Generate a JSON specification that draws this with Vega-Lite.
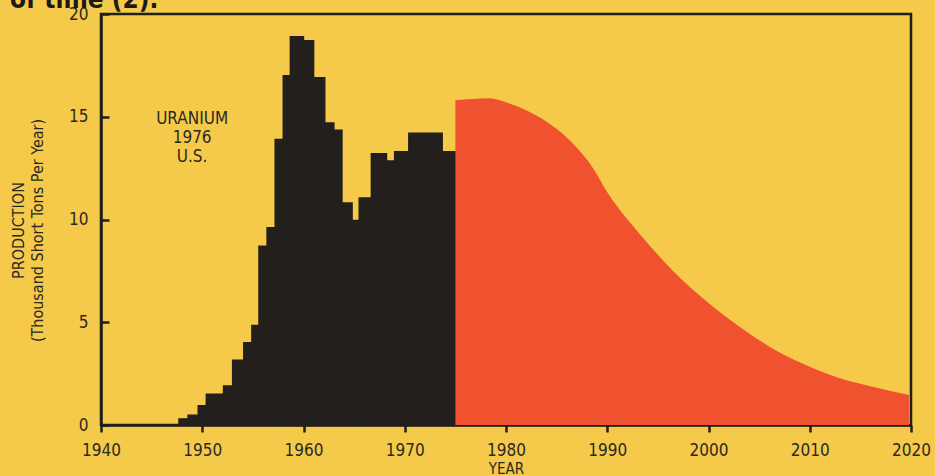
{
  "$schema": "https://vega.github.io/schema/vega-lite/v6.json",
  "width": 810,
  "height": 411,
  "autosize": "none",
  "padding": {"left": 101, "top": 14, "right": 24, "bottom": 51},
  "background": "#f5c94a",
  "config": {
    "view": {"stroke": "#1e1e1a", "strokeWidth": 2.5},
    "font": "Liberation Sans Narrow, DejaVu Sans Condensed, Liberation Sans, sans-serif"
  },
  "datasets": {
    "history": [
      {"start": 1947.7, "end": 1948.6, "production": 0.3},
      {"start": 1948.6, "end": 1949.6, "production": 0.48},
      {"start": 1949.6, "end": 1950.4, "production": 0.94},
      {"start": 1950.4, "end": 1952.1, "production": 1.5},
      {"start": 1952.1, "end": 1953.0, "production": 1.9},
      {"start": 1953.0, "end": 1954.1, "production": 3.15},
      {"start": 1954.1, "end": 1954.9, "production": 4.0},
      {"start": 1954.9, "end": 1955.6, "production": 4.85},
      {"start": 1955.6, "end": 1956.4, "production": 8.7},
      {"start": 1956.4, "end": 1957.2, "production": 9.6},
      {"start": 1957.2, "end": 1958.0, "production": 13.9},
      {"start": 1958.0, "end": 1958.7, "production": 17.0},
      {"start": 1958.7, "end": 1960.0, "production": 18.9},
      {"start": 1960.0, "end": 1961.0, "production": 18.7},
      {"start": 1961.0, "end": 1962.1, "production": 16.9},
      {"start": 1962.1, "end": 1963.0, "production": 14.7},
      {"start": 1963.0, "end": 1963.8, "production": 14.35},
      {"start": 1963.8, "end": 1964.8, "production": 10.8},
      {"start": 1964.8, "end": 1965.5, "production": 9.95},
      {"start": 1965.5, "end": 1966.7, "production": 11.05},
      {"start": 1966.7, "end": 1968.2, "production": 13.2},
      {"start": 1968.2, "end": 1969.0, "production": 12.85},
      {"start": 1969.0, "end": 1970.4, "production": 13.3},
      {"start": 1970.4, "end": 1973.7, "production": 14.2},
      {"start": 1973.7, "end": 1975.0, "production": 13.3}
    ],
    "projection": [
      {"year": 1975.0, "production": 15.8},
      {"year": 1978.4, "production": 15.9},
      {"year": 1980.0, "production": 15.7},
      {"year": 1983.3, "production": 14.97},
      {"year": 1986.6, "production": 13.7},
      {"year": 1988.6, "production": 12.5},
      {"year": 1990.1, "production": 11.25},
      {"year": 1993.2, "production": 9.3},
      {"year": 1996.5, "production": 7.5},
      {"year": 2000.1, "production": 5.9},
      {"year": 2003.1, "production": 4.77},
      {"year": 2006.4, "production": 3.7},
      {"year": 2010.0, "production": 2.83},
      {"year": 2013.0, "production": 2.27},
      {"year": 2016.2, "production": 1.86},
      {"year": 2019.8, "production": 1.46}
    ]
  },
  "layer": [
    {
      "data": {"name": "history"},
      "mark": {"type": "bar", "color": "#221f1c", "stroke": "#221f1c", "strokeWidth": 1.4},
      "encoding": {
        "x": {
          "field": "start",
          "type": "quantitative",
          "scale": {"domain": [1940, 2020], "nice": false, "zero": false},
          "axis": {
            "values": [1940, 1950, 1960, 1970, 1980, 1990, 2000, 2010, 2020],
            "format": "d",
            "grid": false,
            "labelFlush": false,
            "tickSize": 7,
            "tickWidth": 2.5,
            "tickColor": "#1e1e1a",
            "domainColor": "#1e1e1a",
            "domainWidth": 2.5,
            "labelFontSize": 17,
            "labelColor": "#2a2a22",
            "labelPadding": 10,
            "title": "YEAR",
            "titleFontSize": 15,
            "titleFontWeight": "normal",
            "titleColor": "#2a2a22",
            "titlePadding": 3
          }
        },
        "x2": {"field": "end"},
        "y": {
          "field": "production",
          "type": "quantitative",
          "scale": {"domain": [0, 20], "nice": false},
          "axis": {
            "values": [0, 5, 10, 15, 20],
            "grid": false,
            "tickSize": -8,
            "tickWidth": 2.5,
            "tickColor": "#1e1e1a",
            "domainColor": "#1e1e1a",
            "domainWidth": 2.5,
            "labelFontSize": 17,
            "labelColor": "#2a2a22",
            "labelPadding": 21,
            "labelFlush": false,
            "title": ["PRODUCTION", "(Thousand Short Tons Per Year)"],
            "titleFontSize": 16,
            "titleFontWeight": "normal",
            "titleColor": "#2a2a22",
            "titleLineHeight": 19,
            "titlePadding": 23,
            "titleY": 216
          }
        },
        "y2": {"datum": 0}
      }
    },
    {
      "data": {"name": "projection"},
      "mark": {"type": "area", "interpolate": "monotone", "color": "#f0512f", "opacity": 1},
      "encoding": {
        "x": {"field": "year", "type": "quantitative"},
        "y": {"field": "production", "type": "quantitative"}
      }
    },
    {
      "data": {"values": [{}]},
      "mark": {
        "type": "text",
        "text": ["URANIUM", "1976", "U.S."],
        "align": "center",
        "baseline": "middle",
        "fontSize": 17,
        "lineHeight": 19,
        "color": "#2a2a22"
      },
      "encoding": {
        "x": {"datum": 1949.0},
        "y": {"datum": 14.9}
      }
    },
    {
      "data": {"values": [{}]},
      "mark": {
        "type": "text",
        "text": "of time (2).",
        "align": "left",
        "baseline": "alphabetic",
        "fontSize": 26,
        "fontWeight": "bold",
        "color": "#1c1a17",
        "clip": false
      },
      "encoding": {
        "x": {"datum": 1931.0},
        "y": {"datum": 20.3}
      }
    }
  ]
}
